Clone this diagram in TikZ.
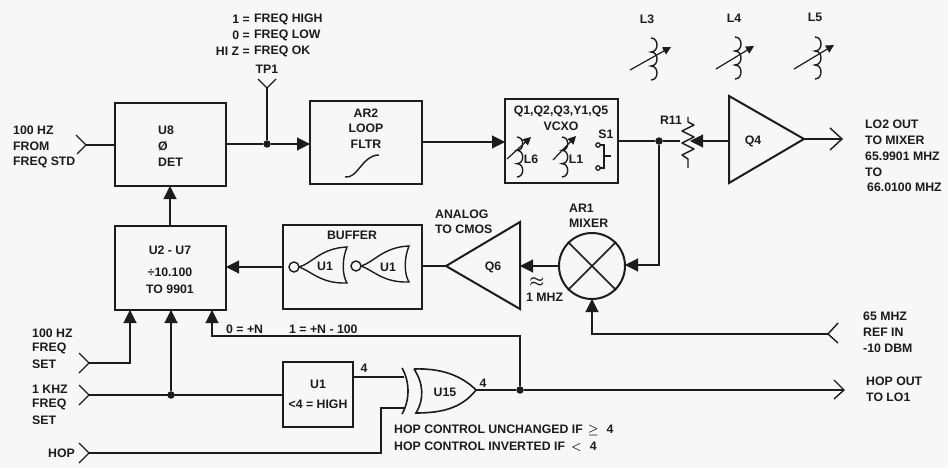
\documentclass[tikz,border=0pt]{standalone}
\usepackage{amsmath}
\usepackage{amssymb}
\usepackage{fontspec}
\setmainfont{Liberation Sans}
\usepackage{tikz}
\usetikzlibrary{arrows.meta, calc}
\definecolor{paper}{HTML}{F7F7F7}
\definecolor{ink}{HTML}{1C1C1C}
\tikzset{
    box/.style={draw=ink, line width=2pt},
    wire/.style={draw=ink, line width=1.1pt},
    sig/.style={wire, -{Triangle[length=13pt, width=13pt]}},
    open/.style={wire, line width=1.4pt},
    lbl/.style={inner sep=0pt, text=ink, font=\fontsize{12.3}{14}\selectfont\bfseries},
    lft/.style={lbl, anchor=west},
    dot/.style={circle, fill=ink, inner sep=0pt, minimum size=7.5pt},
    turns/.pic={
        \draw[open] (0,-21) .. controls (8,-21) and (8,-7) .. (0,-7)
            .. controls (8,-7) and (8,7) .. (0,7)
            .. controls (8,7) and (8,21) .. (0,21);
    },
    nor/.pic={
        \draw[wire, line width=1.4pt] (0,0) circle (5);
        \draw[wire, line width=1.4pt] (5,0) .. controls (17,-3) and (27,-19) .. (53,-20)
            .. controls (48,-8) and (48,8) .. (53,16)
            .. controls (27,17) and (17,4) .. (5,0);
    },
    tune/.style={wire, line width=1.2pt, -{Triangle[length=8pt, width=8pt]}},
}
\begin{document}
\begin{tikzpicture}[x=1pt, y=-1pt]
    \fill[paper] (0,0) rectangle (948,468);
    \useasboundingbox (0,0) rectangle (948,468);

    % blocks
    \draw[box] (115,103) rectangle (226,186);
    \draw[box] (310,101) rectangle (422,184);
    \draw[box] (505,99) rectangle (618,183);
    \draw[box] (115,226) rectangle (226,310);
    \draw[box] (283,225) rectangle (422,309);
    \draw[box] (283,362) rectangle (353,427);
    \draw[box, line join=miter] (729,96) -- (804,139) -- (729,183) -- cycle;
    \draw[box, line join=miter] (520,222) -- (446,266) -- (520,309) -- cycle;
    \node[circle, draw=ink, line width=2pt, minimum size=66pt, inner sep=0pt] (mix) at (592,266) {};
    \draw[box, line width=1.5pt] (mix.45) -- (mix.225) (mix.135) -- (mix.315);

    \node[dot] (d1) at (267,144) {};
    \node[dot] (d2) at (659,141) {};
    \node[dot] (d3) at (171,395) {};
    \node[dot] (d4) at (520,390) {};

    % wires
    \draw[wire] (86,145) -- (115,145);
    \draw[open] (76,135) -- (86,145) -- (77,154);
    \draw[wire] (226,144) -- (d1);
    \draw[sig] (d1) -- (310,144);
    \draw[wire] (d1) -- (267,88);
    \draw[open] (258,79) -- (267,88) -- (276,79);
    \draw[sig] (422,142) -- (505,142);
    \draw[wire] (618,141) -- (d2) -- (680,141);
    \draw[sig] (d2) |- (625,265);
    \draw[sig] (729,141) -- (690,141);
    \draw[wire] (804,139) -- (842,139);
    \draw[open] (830,128) -- (842,139) -- (830,150);
    \draw[sig] (559,266) -- (520,266);
    \draw[wire] (422,266) -- (446,266);
    \draw[sig] (283,267) -- (226,267);
    \draw[sig] (170,226) -- (170,186);

    \draw[sig] (89,363) -| (130,310);
    \draw[open] (79,353) -- (89,363) -- (79,373);
    \draw[wire] (89,395) -- (283,395);
    \draw[open] (79,385) -- (89,395) -- (79,405);
    \draw[sig] (d3) -- (171,310);
    \draw[wire] (89,453) -- (381,453) -- (381,408) -- (404,408);
    \draw[open] (79,443) -- (89,453) -- (79,463);
    \draw[wire] (353,377) -- (404,377);

    \draw[wire] (476,390) -- (d4) -- (844,390);
    \draw[open] (834,380) -- (844,390) -- (834,399);
    \draw[sig] (d4) |- (212,336) -- (212,310);
    \draw[sig] (828,334) -| (592,299);
    \draw[open] (838,323) -- (828,334) -- (838,343);

    % xor gate
    \draw[box, line width=1.6pt] (402,368) .. controls (410,382) and (410,400) .. (402,414);
    \draw[box, line width=1.6pt] (414,369) .. controls (424,384) and (424,400) .. (416,413)
        .. controls (442,413) and (462,408) .. (476,390)
        .. controls (462,376) and (442,368) .. (414,369);

    % nor gates
    \pic at (294,267) {nor};
    \pic at (356,266) {nor};

    % coils
    \pic at (651,59) {turns};
    \draw[tune] (630,70) -- (671,47);
    \pic at (735,58) {turns};
    \draw[tune] (716,69) -- (754,46);
    \pic at (815,58) {turns};
    \draw[tune] (794,69) -- (834,45);
    \pic[scale=0.95] at (517,157) {turns};
    \draw[tune] (507,159) -- (531,137);
    \pic[scale=0.95] at (562,157) {turns};
    \draw[tune] (553,160) -- (576,136);

    % s1 switch
    \draw[wire, line width=1.3pt] (598,145) circle (2.2) (598,168) circle (2.2);
    \draw[wire, line width=1.3pt] (600,145) -- (604,145) -- (604,168) -- (600,168);
    \draw[wire, line width=1.3pt] (604,156) -- (611,156);

    % r11
    \draw[open, line join=round] (688,117) -- (688,122) -- (694,125) -- (682,131) -- (694,137)
        -- (682,143) -- (694,149) -- (682,155) -- (688,159) -- (688,168);

    % filter curve
    \draw[open] (345,177) .. controls (358,179) and (362,155) .. (379,155);

    % labels
    \node[lft] (stdin) at (13,130) {100 HZ};
    \node[lft] at (13,146) {FROM};
    \node[lft] at (13,162) {FREQ STD};
    \node[lft] (u8) at (158,130) {U8};
    \node[lft] at (158,146) {\O};
    \node[lft] at (158,162) {DET};
    \node[lbl, anchor=east] at (250,19) {1 =};
    \node[lbl, anchor=east] at (250,35) {0 =};
    \node[lbl, anchor=east] at (250,51) {HI Z =};
    \node[lft] at (254,19) {FREQ HIGH};
    \node[lft] at (254,35) {FREQ LOW};
    \node[lft] at (254,51) {FREQ OK};
    \node[lbl] at (267,69) {TP1};
    \node[lbl] at (366,113) {AR2};
    \node[lbl] at (366,128) {LOOP};
    \node[lbl] at (366,144) {FLTR};
    \node[lbl] at (561,111) {Q1,Q2,Q3,Y1,Q5};
    \node[lbl] at (561,126) {VCXO};
    \node[lbl] at (606,134) {S1};
    \node[lbl] at (531,159) {L6};
    \node[lbl] at (576,159) {L1};
    \node[lbl] at (647,19) {L3};
    \node[lbl] at (734,18) {L4};
    \node[lbl] at (815,17) {L5};
    \node[lbl] at (671,120) {R11};
    \node[lbl] at (753,141) {Q4};
    \node[lft] at (865,124) {LO2 OUT};
    \node[lft] at (865,140) {TO MIXER};
    \node[lft] at (865,156) {65.9901 MHZ};
    \node[lft] at (865,172) {TO};
    \node[lft] at (867,187) {66.0100 MHZ};
    \node[lbl] at (493,267) {Q6};
    \node[lft] at (435,214) {ANALOG};
    \node[lft] at (435,229) {TO CMOS};
    \node[lft] at (569,208) {AR1};
    \node[lft] at (569,223) {MIXER};
    \node[lbl, scale=1.4] at (537,282) {$\boldsymbol{\approx}$};
    \node[lft] at (526,297) {1 MHZ};
    \node[lbl] at (352,235) {BUFFER};
    \node[lbl] at (325,266) {U1};
    \node[lbl] at (388,267) {U1};
    \node[lbl] at (170,250) {U2 - U7};
    \node[lbl] at (170,272) {÷10.100};
    \node[lbl] at (170,289) {TO 9901};
    \node[lft] at (226,329) {0 = +N};
    \node[lft] at (289,329) {1 = +N - 100};
    \node[lft] at (32,333) {100 HZ};
    \node[lft] at (32,348) {FREQ};
    \node[lft] at (32,364) {SET};
    \node[lft] at (32,389) {1 KHZ};
    \node[lft] at (32,404) {FREQ};
    \node[lft] at (32,420) {SET};
    \node[lft] at (48,453) {HOP};
    \node[lbl] at (318,384) {U1};
    \node[lbl] at (318,404) {<4 = HIGH};
    \node[lbl] at (364,368) {4};
    \node[lbl] at (483,383) {4};
    \node[lbl] at (445,392) {U15};
    \node[lft] at (394,430) {HOP CONTROL UNCHANGED IF\hspace{5pt}$\boldsymbol{\geq}$\hspace{8pt}4};
    \node[lft] at (394,447) {HOP CONTROL INVERTED IF\hspace{6pt}$\boldsymbol{<}$\hspace{8pt}4};
    \node[lft] at (863,316) {65 MHZ};
    \node[lft] at (863,332) {REF IN};
    \node[lft] at (863,348) {-10 DBM};
    \node[lft] at (866,381) {HOP OUT};
    \node[lft] at (866,397) {TO LO1};
\end{tikzpicture}
\end{document}
